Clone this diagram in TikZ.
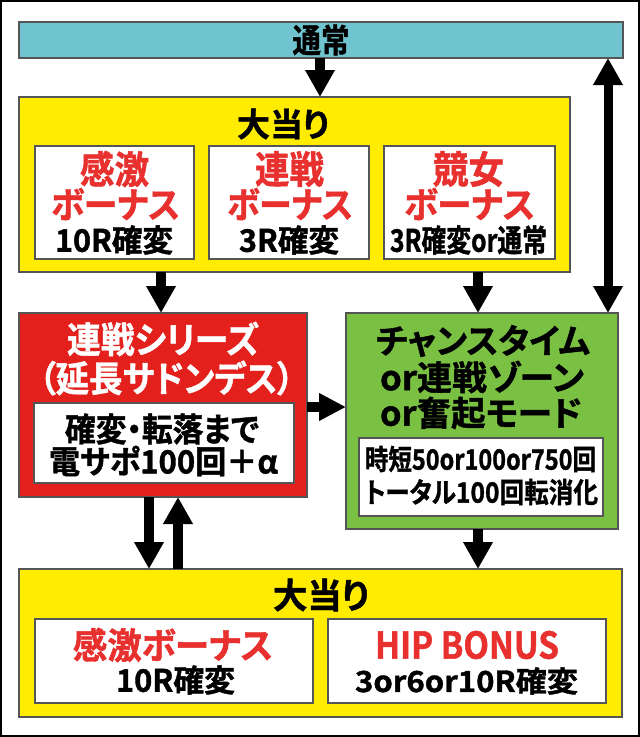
\documentclass[tikz,border=0pt]{standalone}
\usepackage{graphicx}
\usepackage{fontspec}
\setmainfont{Noto Sans CJK JP}[UprightFont=* Bold, BoldFont=* Bold, RawFeature=+palt, FakeBold=1.3]
\usetikzlibrary{arrows.meta,calc}
\definecolor{cyanbar}{HTML}{70C4D0}
\definecolor{yel}{HTML}{FFEC00}
\definecolor{redbox}{HTML}{E3201B}
\definecolor{greenbox}{HTML}{7AC143}
\definecolor{redtxt}{HTML}{E8312E}
\definecolor{edge}{HTML}{555555}
\newcommand\tline[3]{{\fontsize{#1}{#1}\selectfont\resizebox{#2}{\height}{#3}}}
\tikzset{
  box/.style={draw=edge, line width=1.2pt, inner sep=0pt, outer sep=0pt, rectangle},
  txt/.style={inner sep=0pt, outer sep=0pt},
  rtxt/.style={txt, text=redtxt},
  wtxt/.style={txt, text=white},
  arr/.style={line width=10pt, -{Triangle[length=27pt,width=28pt]}},
  arrb/.style={line width=9pt, {Triangle[length=27pt,width=28pt]}-{Triangle[length=27pt,width=28pt]}}
}
\begin{document}
\begin{tikzpicture}[x=1pt,y=-1pt]
\useasboundingbox (0,0) rectangle (640,737);
\draw[line width=2pt] (1,1) rectangle (639,736);
% boxes
\node[box, fill=cyanbar, minimum width=604pt, minimum height=36pt] (tsu) at (321,40) {};
\node[box, fill=yel, minimum width=551pt, minimum height=175pt] (oa1) at (294.5,184.5) {};
\node[box, fill=white, minimum width=159pt, minimum height=113pt] (b1) at (114.5,202.5) {};
\node[box, fill=white, minimum width=160pt, minimum height=113pt] (b2) at (289,202.5) {};
\node[box, fill=white, minimum width=171pt, minimum height=113pt] (b3) at (469.5,202.5) {};
\node[box, fill=redbox, minimum width=288pt, minimum height=184pt] (red) at (163,405) {};
\node[box, fill=white, minimum width=260pt, minimum height=80pt] (redw) at (164,443) {};
\node[box, fill=greenbox, minimum width=272pt, minimum height=216pt] (grn) at (482,421) {};
\node[box, fill=white, minimum width=244pt, minimum height=78pt] (grnw) at (481,477) {};
\node[box, fill=yel, minimum width=603pt, minimum height=148pt] (oa2) at (320.5,643) {};
\node[box, fill=white, minimum width=278pt, minimum height=84pt] (c1) at (174,661) {};
\node[box, fill=white, minimum width=278pt, minimum height=84pt] (c2) at (467,661) {};
% texts
\node[txt] (t0) at (321,40) {\tline{33}{57pt}{通常}};
\node[txt] (t1) at (283,124) {\tline{33}{92pt}{大当り}};
\node[rtxt] (t11) at (114.5,169) {\tline{38}{69pt}{感激}};
\node[rtxt] (t12) at (115.5,204) {\tline{36}{129pt}{ボーナス}};
\node[txt] (t13) at (114,240) {\tline{31}{118pt}{10R確変}};
\node[rtxt] (t21) at (289.5,169) {\tline{38}{69pt}{連戦}};
\node[rtxt] (t22) at (290,204) {\tline{36}{126pt}{ボーナス}};
\node[txt] (t23) at (289,240) {\tline{31}{100pt}{3R確変}};
\node[rtxt] (t31) at (468.5,169) {\tline{38}{71pt}{競女}};
\node[rtxt] (t32) at (469.5,204) {\tline{36}{131pt}{ボーナス}};
\node[txt] (t33) at (468.5,240) {\tline{31}{157pt}{3R確変or通常}};
\node[wtxt] (r1) at (163,339) {\tline{36}{192pt}{連戦シリーズ}};
\node[wtxt] (r2) at (166.5,378) {\tline{36}{255pt}{（延長サドンデス）}};
\node[txt] (r3) at (162,429) {\tline{33}{194pt}{確変・転落まで}};
\node[txt] (r4) at (163.5,461) {\tline{32}{229pt}{電サポ100回＋α}};
\node[txt] (g1) at (483,341) {\tline{34}{214pt}{チャンスタイム}};
\node[txt] (g2) at (482,377) {\tline{34}{204pt}{or連戦ゾーン}};
\node[txt] (g3) at (481,413) {\tline{34}{202pt}{or奮起モード}};
\node[txt] (g4) at (480.5,459) {\tline{28}{231pt}{時短50or100or750回}};
\node[txt] (g5) at (481.5,492) {\tline{28}{233pt}{トータル100回転消化}};
\node[txt] (d0) at (321,595) {\tline{35}{96pt}{大当り}};
\node[rtxt] (d1) at (173,645) {\tline{36}{200pt}{感激ボーナス}};
\node[txt] (d2) at (175.5,680) {\tline{31}{119pt}{10R確変}};
\node[rtxt] (d3) at (467,645) {\tline{37}{184pt}{HIP BONUS}};
\node[txt] (d4) at (466.5,681) {\tline{29}{223pt}{3or6or10R確変}};
% arrows
\coordinate (xa) at (320,0);
\coordinate (xb) at (608,0);
\coordinate (xc) at (161,0);
\coordinate (xd) at (478,0);
\coordinate (xe) at (149,0);
\coordinate (xf) at (178,0);
\coordinate (ya) at (0,407);
\draw[arr] (tsu.south -| xa) -- (oa1.north -| xa);
\draw[arrb] (tsu.south -| xb) -- (grn.north -| xb);
\draw[arr] (oa1.south -| xc) -- (red.north -| xc);
\draw[arr] (oa1.south -| xd) -- (grn.north -| xd);
\draw[line width=10pt, -{Triangle[length=27pt,width=26pt]}] (red.east |- ya) -- (grn.west |- ya);
\draw[arr] (red.south -| xe) -- (oa2.north -| xe);
\draw[arr] (oa2.north -| xf) -- (red.south -| xf);
\draw[arr] (grn.south -| xd) -- (oa2.north -| xd);
\end{tikzpicture}
\end{document}
